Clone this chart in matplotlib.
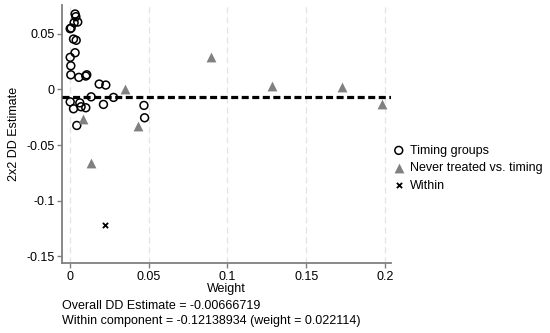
# plot.py
# Bacon-style decomposition scatter: 2x2 DD estimates against their weights.

import matplotlib
matplotlib.use('Agg')
import matplotlib.pyplot as plt

plt.rcParams['font.family'] = ['Liberation Sans', 'DejaVu Sans']

# Timing groups (hollow circles)
timing_w = [0.0034, 0.0039, 0.0051, 0.0028, 0.0003, 0.0009, 0.0024, 0.0041,
            0.0034, 0.0003, 0.0007, 0.0007, 0.0058, 0.0102, 0.0108, 0.0187,
            0.0229, 0.0136, 0.0278, 0.0003, 0.0024, 0.0064, 0.0072, 0.0102,
            0.0214, 0.0471, 0.0475, 0.0045]
timing_est = [0.0677, 0.0653, 0.0605, 0.0599, 0.0545, 0.0551, 0.0452, 0.0441,
              0.0329, 0.0288, 0.0212, 0.0131, 0.0108, 0.0120, 0.0131, 0.0048,
              0.0039, -0.0067, -0.0072, -0.0112, -0.0174, -0.0121, -0.0156, -0.0165,
              -0.0135, -0.0144, -0.0255, -0.0324]

# Never treated vs. timing (grey triangles)
never_w = [0.0348, 0.0085, 0.0433, 0.0134, 0.0896, 0.1284, 0.1726, 0.1983]
never_est = [0.0005, -0.0264, -0.0330, -0.0660, 0.0288, 0.0032, 0.0023, -0.0135]

# Within component (cross)
within_w = [0.022114]
within_est = [-0.12138934]

overall_dd = -0.00666719

x_ticks = [0, 0.05, 0.1, 0.15, 0.2]
x_ticklabels = ['0', '0.05', '0.1', '0.15', '0.2']
y_ticks = [0.05, 0, -0.05, -0.1, -0.15]
y_ticklabels = ['0.05', '0', '-0.05', '-0.1', '-0.15']

fs = 9

fig = plt.figure(figsize=(5.5, 3.33), dpi=100)
ax = fig.add_axes([0.113, 0.21, 0.597, 0.775])

for xt in x_ticks:
    ax.axvline(xt, color='#e4e4e4', lw=0.9, ls=(0, (5, 3)), zorder=0)

ax.scatter(timing_w, timing_est, s=32, facecolors='none', edgecolors='black',
           linewidths=1.1, label='Timing groups', zorder=3)
ax.scatter(never_w, never_est, s=50, marker='^', color='#808080',
           linewidths=0, label='Never treated vs. timing', zorder=3)
ax.scatter(within_w, within_est, s=14, marker='x', color='black',
           linewidths=1.3, label='Within', zorder=3)

ax.axhline(overall_dd, color='black', lw=2.3, dashes=(2.2, 1.1), zorder=4)

ax.set_xlim(-0.0048, 0.2035)
ax.set_ylim(-0.156, 0.0758)
ax.set_xticks(x_ticks)
ax.set_xticklabels(x_ticklabels)
ax.set_yticks(y_ticks)
ax.set_yticklabels(y_ticklabels)

for side in ['top', 'right']:
    ax.spines[side].set_visible(False)
for side in ['left', 'bottom']:
    ax.spines[side].set_color('#7f7f7f')
    ax.spines[side].set_linewidth(1.3)
ax.tick_params(axis='both', labelsize=fs, color='#7f7f7f', width=1, length=3.5)
ax.tick_params(axis='x', pad=2)
ax.tick_params(axis='y', pad=2)

ax.set_xlabel('Weight', fontsize=fs)
ax.xaxis.set_label_coords(0.5, -0.1)
ax.xaxis.label.set_va('center')
ax.set_ylabel('2x2 DD Estimate', fontsize=fs)
ax.yaxis.set_label_coords(-0.146, 0.5)
ax.yaxis.label.set_va('center')

ax.legend(loc='center left', bbox_to_anchor=(0.70, 0.495),
          bbox_transform=fig.transFigure, frameon=False, fontsize=fs,
          handletextpad=0.3, labelspacing=0.44, borderpad=0, handlelength=1.2)

fig.text(0.113, 0.082, 'Overall DD Estimate = -0.00666719', fontsize=fs, va='center')
fig.text(0.113, 0.037, 'Within component = -0.12138934 (weight = 0.022114)',
         fontsize=fs, va='center')

fig.savefig('out.png', dpi=100)
